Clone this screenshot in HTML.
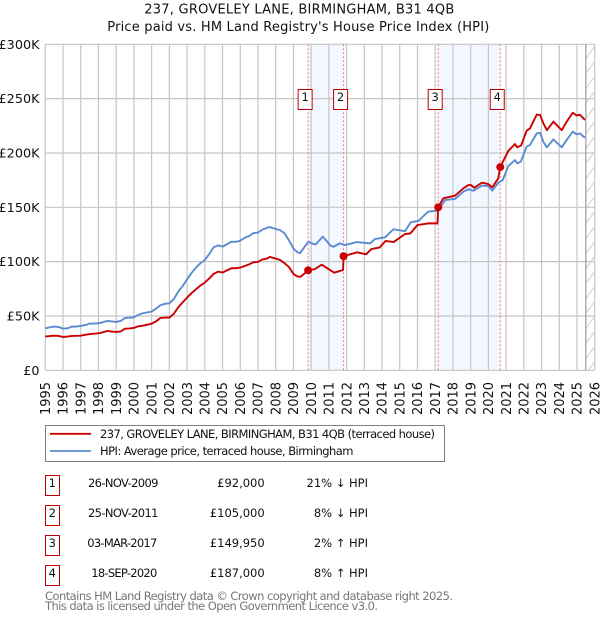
<!DOCTYPE html>
<html lang="en">
<head>
<meta charset="utf-8">
<title>237, Groveley Lane price paid vs HPI</title>
<style>
html,body{margin:0;padding:0;background:#fff;}
svg{display:block;}
text{font-family:"DejaVu Sans","Liberation Sans",sans-serif;fill:#111;}
</style>
</head>
<body>
<svg id="chart" xmlns="http://www.w3.org/2000/svg" width="600" height="620" viewBox="0 0 600 620">
  <defs>
    <pattern id="hatch" patternUnits="userSpaceOnUse" width="9" height="15">
      <path d="M-1 16 L10 1 M-1 1 L1 -2" stroke="#d0d0d0" stroke-width="1" fill="none"/>
    </pattern>
  </defs>
  <rect width="600" height="620" fill="#fff"/>
  <text x="299.3" y="13.3" text-anchor="middle" font-size="13" textLength="310">237, GROVELEY LANE, BIRMINGHAM, B31 4QB</text>
  <text x="298.3" y="31" text-anchor="middle" font-size="13" textLength="382">Price paid vs. HM Land Registry's House Price Index (HPI)</text>
  <g id="bands"></g>
  <g id="grid"></g>
  <g id="forecast"></g>
  <g id="sale-lines"></g>
  <g id="series"></g>
  <g id="sale-points"></g>
  <g id="sale-boxes"></g>
  <g id="ticks"></g>

  <g>
    <rect x="45.5" y="425.5" width="399" height="36" fill="#fff" stroke="#808080" stroke-width="1"/>
    <line x1="50" x2="91" y1="433.8" y2="433.8" stroke="#cc0000" stroke-width="1.8"/>
    <text x="100" y="438" font-size="11.5" textLength="335">237, GROVELEY LANE, BIRMINGHAM, B31 4QB (terraced house)</text>
    <line x1="50" x2="91" y1="451" y2="451" stroke="#5b8bd0" stroke-width="1.8"/>
    <text x="100" y="455" font-size="11.5" textLength="253.5">HPI: Average price, terraced house, Birmingham</text>
  </g>

  <g font-size="11.5">
    <g>
      <rect x="45.5" y="475.5" width="14" height="20" fill="#fff" stroke="#c00000"/>
      <text x="52.3" y="487" text-anchor="middle" font-size="11.5">1</text>
      <text x="88" y="487" font-size="11.5" textLength="70.5">26-NOV-2009</text>
      <text x="264.7" y="487" text-anchor="end" font-size="11.5">£92,000</text>
      <text x="368" y="487" text-anchor="end" font-size="11.5">21% ↓ HPI</text>
    </g>
    <g>
      <rect x="45.5" y="505.5" width="14" height="20" fill="#fff" stroke="#c00000"/>
      <text x="52.3" y="517" text-anchor="middle" font-size="11.5">2</text>
      <text x="88" y="517" font-size="11.5" textLength="70.5">25-NOV-2011</text>
      <text x="264.7" y="517" text-anchor="end" font-size="11.5">£105,000</text>
      <text x="368" y="517" text-anchor="end" font-size="11.5">8% ↓ HPI</text>
    </g>
    <g>
      <rect x="45.5" y="535.5" width="14" height="20" fill="#fff" stroke="#c00000"/>
      <text x="52.3" y="547" text-anchor="middle" font-size="11.5">3</text>
      <text x="87.3" y="547" font-size="11.5" textLength="70">03-MAR-2017</text>
      <text x="264.7" y="547" text-anchor="end" font-size="11.5">£149,950</text>
      <text x="368" y="547" text-anchor="end" font-size="11.5">2% ↑ HPI</text>
    </g>
    <g>
      <rect x="45.5" y="565.5" width="14" height="20" fill="#fff" stroke="#c00000"/>
      <text x="52.3" y="577" text-anchor="middle" font-size="11.5">4</text>
      <text x="91.3" y="577" font-size="11.5" textLength="66">18-SEP-2020</text>
      <text x="264.7" y="577" text-anchor="end" font-size="11.5">£187,000</text>
      <text x="368" y="577" text-anchor="end" font-size="11.5">8% ↑ HPI</text>
    </g>
  </g>

  <text x="45" y="600" font-size="11.5" style="fill:#777" textLength="408">Contains HM Land Registry data © Crown copyright and database right 2025.</text>
  <text x="45" y="610" font-size="11.5" style="fill:#777" textLength="333">This data is licensed under the Open Government Licence v3.0.</text>
</svg>
<script>
var yearTicks = [1995,1996,1997,1998,1999,2000,2001,2002,2003,2004,2005,2006,2007,2008,2009,2010,2011,2012,2013,2014,2015,2016,2017,2018,2019,2020,2021,2022,2023,2024,2025,2026];
var valueTicks = [0,50000,100000,150000,200000,250000,300000];
var valueTickLabels = ["£0","£50K","£100K","£150K","£200K","£250K","£300K"];
var saleLabels = ["1","2","3","4"];
var saleDates = [2009.83,2011.83,2017.17,2020.67];
var salePrices = [92000,105000,149950,187000];
var forecastStart = 2025.5;

var hpiDates = [1995,1995.25,1995.5,1995.75,1996,1996.25,1996.5,1996.75,1997,1997.25,1997.5,1997.75,1998,1998.25,1998.5,1998.75,1999,1999.25,1999.5,1999.75,2000,2000.25,2000.5,2000.75,2001,2001.25,2001.5,2001.75,2002,2002.25,2002.5,2002.75,2003,2003.25,2003.5,2003.75,2004,2004.25,2004.5,2004.75,2005,2005.25,2005.5,2005.75,2006,2006.25,2006.5,2006.75,2007,2007.25,2007.5,2007.67,2008,2008.25,2008.5,2008.75,2009,2009.2,2009.37,2009.6,2009.8,2009.9,2010,2010.26,2010.65,2010.9,2011.07,2011.25,2011.63,2011.9,2012.25,2012.57,2013.32,2013.6,2014.17,2014.64,2015.3,2015.62,2016.05,2016.6,2017.1,2017.3,2017.56,2018.12,2018.59,2018.87,2019.15,2019.63,2020,2020.22,2020.56,2020.81,2021.13,2021.5,2021.63,2021.83,2022.16,2022.35,2022.73,2022.92,2023.1,2023.3,2023.67,2024.14,2024.42,2024.76,2024.98,2025.17,2025.45];
var hpiValues = [38.6,39.6,40.2,39.9,38.3,38.6,40.2,40.2,40.8,41.6,43,43,43.3,44.2,45.4,45,44.5,45.4,48.2,48.4,48.8,51,52.5,53.2,54,56.8,60,61.2,61.7,65.5,72.4,77.5,83.7,89.5,94.5,98.5,101.5,107,113.2,115,113.8,116,118.4,118.2,119.3,122,123.6,126.3,126.7,129.5,131,131.8,130,129,126,119.5,112,109,107.8,113,117.5,118,117,115.8,123,118.5,115,113.7,116.8,115.3,116.6,118,116.8,120.8,122.4,129.7,128,136.2,137.4,146,146.9,150,156.7,157.7,164.4,166.6,165.3,169.9,169.6,165.3,172.6,175.1,188,193.5,190.4,192,205.8,207.4,218,218.6,210.4,205.2,212.5,205.2,212,219.6,217.2,218,214];

var priceDates = [1995,1995.25,1995.5,1995.75,1996,1996.25,1996.5,1996.75,1997,1997.25,1997.5,1997.75,1998,1998.25,1998.5,1998.75,1999,1999.25,1999.5,1999.75,2000,2000.25,2000.5,2000.75,2001,2001.25,2001.5,2001.75,2002,2002.25,2002.5,2002.75,2003,2003.25,2003.5,2003.75,2004,2004.25,2004.5,2004.75,2005,2005.25,2005.5,2005.75,2006,2006.25,2006.5,2006.75,2007,2007.25,2007.5,2007.67,2008,2008.25,2008.5,2008.75,2009,2009.2,2009.4,2009.83,2010.2,2010.6,2011.3,2011.8,2011.83,2012.2,2012.6,2013.1,2013.4,2013.85,2014.2,2014.65,2015.3,2015.6,2016,2016.6,2017.13,2017.17,2017.46,2018.12,2018.59,2018.87,2019.02,2019.2,2019.63,2020,2020.22,2020.56,2020.67,2021.13,2021.5,2021.63,2021.85,2022.16,2022.35,2022.73,2022.92,2023.1,2023.3,2023.67,2024.14,2024.42,2024.76,2024.98,2025.17,2025.45];
var priceValues = [31,31.5,31.9,31.6,30.7,31,31.6,31.7,31.9,32.6,33.4,33.7,34,35,36.2,35.7,35.3,35.8,38.3,38.5,39,40.5,41.1,42,42.9,45,48.2,48.5,48.5,52,58,62.5,66.9,71,74.5,78,80.7,84.5,88.7,90.8,89.9,92,93.9,94,94.5,96,97.5,99.5,99.7,102,102.8,104.3,102.8,101.5,98.5,95,88.7,86.5,86,92,93,97.2,89.8,92.3,105,106.7,108.6,106.7,111.6,112.9,119,118,125.4,126,133.7,135.2,135.2,150,158.3,160.7,167.5,170.5,170.5,168,172.6,171.4,168.4,176.7,187,202,208.2,205.2,207,220.5,222.7,235.3,235,227.4,221,228.8,221,228.8,237,234.5,235.2,230.4];

var SVGNS = "http://www.w3.org/2000/svg";
var plotLeft = 45.3, plotRight = 594.7, plotTop = 44.3, plotBottom = 370.3;
var yearMin = 1995, yearMax = 2026, valueMax = 300000;

function xScale(year){
  return plotLeft + (year - yearMin) / (yearMax - yearMin) * (plotRight - plotLeft);
}
function yScale(value){
  return plotBottom - value / valueMax * (plotBottom - plotTop);
}
function make(tag, parentId, attrs){
  var el = document.createElementNS(SVGNS, tag);
  for (var k in attrs) { el.setAttribute(k, attrs[k]); }
  document.getElementById(parentId).appendChild(el);
  return el;
}
function linePath(dates, values){
  var d = "";
  for (var i = 0; i < dates.length; i++) {
    d += (i ? " L" : "M") + xScale(dates[i]).toFixed(2) + " " + yScale(values[i] * 1000).toFixed(2);
  }
  return d;
}

/* shaded spans between sale pairs */
for (var b = 0; b + 1 < saleDates.length; b += 2) {
  var band = make("rect", "bands", {x: xScale(saleDates[b]), y: plotTop, width: xScale(saleDates[b + 1]) - xScale(saleDates[b]), height: plotBottom - plotTop, fill: "#f3f7ff"});
  
  
}

/* grid */
yearTicks.forEach(function(year){
  var gx = make("line", "grid", {x1: xScale(year), x2: xScale(year), y1: plotTop, y2: plotBottom, stroke: "#c6c6c6", "stroke-width": 1.2});
  
  
  var lx = make("text", "ticks", {transform: "translate(" + (xScale(year) + 4.7) + ",415) rotate(-90)", "font-size": 13, textLength: 33});
  
  
  lx.textContent = year;
});
valueTicks.forEach(function(value, i){
  var gy = make("line", "grid", {x1: plotLeft, x2: plotRight, y1: yScale(value), y2: yScale(value), stroke: "#c6c6c6", "stroke-width": 1.2});
  
  
  var ly = make("text", "ticks", {x: 39.5, y: yScale(value) + 4.5, "text-anchor": "end", "font-size": 12.8});
  
  
  ly.textContent = valueTickLabels[i];
});

/* forecast hatch */
var hatch = make("rect", "forecast", {x: xScale(forecastStart), y: plotTop, width: plotRight - xScale(forecastStart), height: plotBottom - plotTop, fill: "url(#hatch)"});


var edge = make("line", "forecast", {x1: xScale(forecastStart), x2: xScale(forecastStart), y1: plotTop, y2: plotBottom, stroke: "#999", "stroke-width": 1.2});



/* series */
var hpiLine = make("path", "series", {d: linePath(hpiDates, hpiValues), fill: "none", stroke: "#5b8bd0", "stroke-width": 1.9, "stroke-linejoin": "round"});


var priceLine = make("path", "series", {d: linePath(priceDates, priceValues), fill: "none", stroke: "#cc0000", "stroke-width": 1.9, "stroke-linejoin": "round"});



/* sales */
saleDates.forEach(function(date, i){
  var sx = xScale(date);
  var dash = make("line", "sale-lines", {x1: sx, x2: sx, y1: plotTop, y2: plotBottom, stroke: "#ff7070", "stroke-width": 1, "stroke-dasharray": "2 2"});
  
  
  var pt = make("circle", "sale-points", {cx: sx, cy: yScale(salePrices[i]), r: 4, fill: "#cc0000"});
  
  
  var box = make("rect", "sale-boxes", {x: sx - 10, y: 89.5, width: 14, height: 20, fill: "#fff", stroke: "#c00000", "stroke-width": 1});
  
  
  var num = make("text", "sale-boxes", {x: sx - 3, y: 101, "text-anchor": "middle", "font-size": 11.5});
  
  
  num.textContent = saleLabels[i];
});
</script>
</body>
</html>
